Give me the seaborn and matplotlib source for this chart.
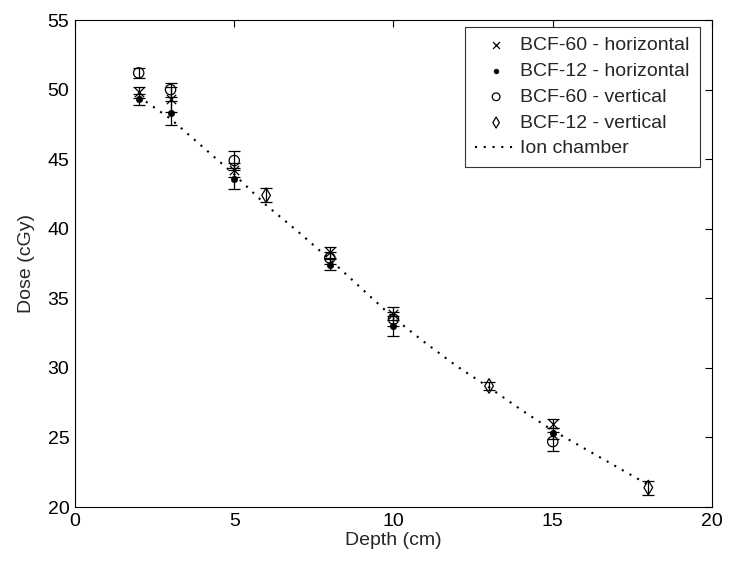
import seaborn as sns
import matplotlib.pyplot as plt
import pandas as pd

# depths (cm) and doses (cGy)
depth_h = [2, 3, 5, 8, 10, 15]
bcf60_h = [49.8, 49.3, 44.2, 38.3, 33.9, 26.0]
bcf60_h_err = [0.4, 0.9, 0.5, 0.4, 0.45, 0.35]
bcf12_h = [49.3, 48.3, 43.6, 37.4, 33.0, 25.3]
bcf12_h_err = [0.4, 0.85, 0.75, 0.4, 0.7, 0.4]

depth_v60 = [2, 3, 5, 8, 10, 15]
bcf60_v = [51.2, 50.0, 44.9, 37.9, 33.5, 24.7]
bcf60_v_err = [0.35, 0.5, 0.7, 0.4, 0.5, 0.7]

depth_v12 = [6, 13, 18]
bcf12_v = [42.4, 28.7, 21.4]
bcf12_v_err = [0.5, 0.3, 0.5]

ion_depth = [2, 3, 4, 5, 6, 7, 8, 9, 10, 11, 12, 13, 14, 15, 16, 17, 18]
ion_dose = [49.5, 47.9, 45.9, 43.9, 41.7, 39.8, 37.8, 35.7, 33.6, 31.8,
            30.1, 28.6, 27.0, 25.5, 24.2, 22.9, 21.6]

sns.set_style("white")
plt.rcParams["font.family"] = ["Liberation Sans", "DejaVu Sans"]

fig = plt.figure(figsize=(7.31, 5.66), dpi=100)
ax = fig.add_axes([0.1026, 0.1042, 0.8714, 0.8604])

ion = pd.DataFrame({"Depth": ion_depth, "Dose": ion_dose})

# error bars first, markers on top
err_kw = dict(fmt="none", ecolor="black", elinewidth=0.9, capsize=4.3, capthick=0.9)
ax.errorbar(depth_h, bcf60_h, yerr=bcf60_h_err, **err_kw)
ax.errorbar(depth_h, bcf12_h, yerr=bcf12_h_err, **err_kw)
ax.errorbar(depth_v60, bcf60_v, yerr=bcf60_v_err, **err_kw)
ax.errorbar(depth_v12, bcf12_v, yerr=bcf12_v_err, **err_kw)

sns.scatterplot(x=depth_h, y=bcf60_h, marker="x", s=45, color="black",
                linewidth=0.9, ax=ax, label="BCF-60 - horizontal")
sns.scatterplot(x=depth_h, y=bcf12_h, marker="o", s=22, color="black",
                edgecolor="black", ax=ax, label="BCF-12 - horizontal")
sns.scatterplot(x=depth_v60, y=bcf60_v, marker="o", s=55, facecolor="none",
                edgecolor="black", linewidth=0.9, ax=ax, label="BCF-60 - vertical")
sns.scatterplot(x=depth_v12, y=bcf12_v, marker="d", s=55, facecolor="none",
                edgecolor="black", linewidth=0.9, ax=ax, label="BCF-12 - vertical")
sns.lineplot(data=ion, x="Depth", y="Dose", color="black", linewidth=1.5,
             linestyle=(0, (1, 3.2)), ax=ax, label="Ion chamber")

ax.set_xlim(0, 20)
ax.set_ylim(20, 55)
ax.set_xticks([0, 5, 10, 15, 20])
ax.set_yticks([20, 25, 30, 35, 40, 45, 50, 55])
ax.set_xlabel("Depth (cm)", fontsize=14, labelpad=2)
ax.set_ylabel("Dose (cGy)", fontsize=14, labelpad=9)
ax.tick_params(direction="in", top=True, right=True, length=5, width=0.8,
               labelsize=14, colors="black", pad=4)
for sp in ax.spines.values():
    sp.set_visible(True)
    sp.set_color("black")
    sp.set_linewidth(0.8)

legend = ax.legend(loc="upper left", bbox_to_anchor=(465 / 731, 1 - 27 / 566),
                   bbox_transform=fig.transFigure, borderaxespad=0,
                   fontsize=14, frameon=True, fancybox=False, edgecolor="black",
                   handlelength=2.2, handletextpad=0.15, labelspacing=0.42,
                   borderpad=0.5, markerscale=0.75)
legend.get_frame().set_linewidth(0.8)

fig.savefig("out.png", dpi=100)
